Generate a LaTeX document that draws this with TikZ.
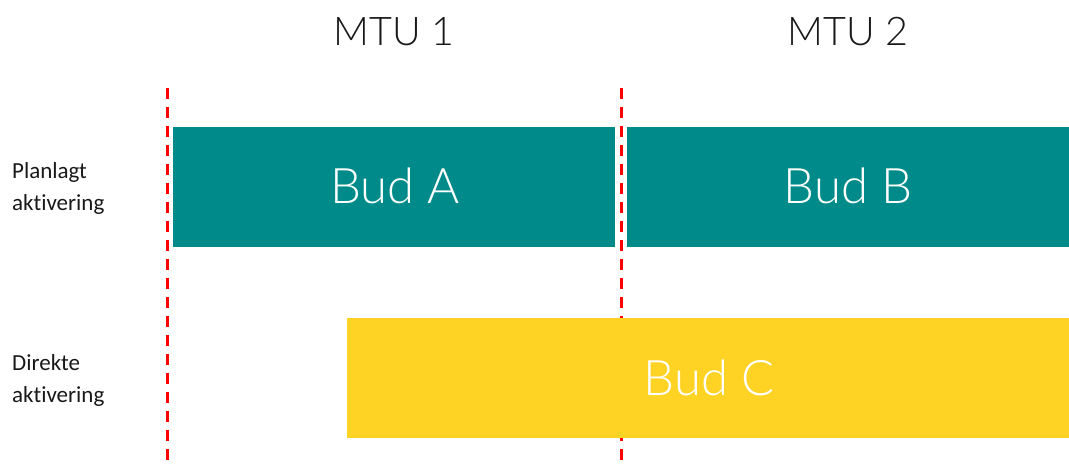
\documentclass[tikz,border=0pt]{standalone}
\usepackage{fontspec}
\setmainfont{Lato Light}[Ligatures=NoCommon]
\newfontfamily\regfont{Carlito}[Ligatures=NoCommon]
\definecolor{tealbox}{RGB}{0,139,138}
\definecolor{yellowbox}{RGB}{255,211,36}
\definecolor{dashred}{RGB}{255,0,0}
\tikzset{
  bidbox/.style={inner sep=0pt, outer sep=0pt, font=\fontsize{49}{60}\selectfont, text=white},
  mtulabel/.style={inner sep=0pt, font=\fontsize{39.5}{48}\selectfont, text=black!90},
  rowlabel/.style={inner sep=0pt, anchor=west, align=left, font=\regfont\fontsize{23}{32}\selectfont, text=black!90},
  mtuline/.style={draw=dashred, line width=3pt, dash pattern=on 11pt off 8pt}
}
\begin{document}
\begin{tikzpicture}[x=1pt, y=-1pt]
\useasboundingbox (0,0) rectangle (1069,464);
% dashed lines
\coordinate (l1t) at (167,88);
\coordinate (l1b) at (167,464);
\coordinate (l2t) at (621,88);
\coordinate (l2b) at (621,464);
\draw[mtuline] (l1t) -- (l1b);
\draw[mtuline] (l2t) -- (l2b);
% boxes
\fill[tealbox] (173,127) rectangle (615,247);
\node[bidbox] (a) at (395,186) {Bud A};
\fill[tealbox] (627,127) rectangle (1069,247);
\node[bidbox] (b) at (848,186) {Bud B};
\fill[yellowbox] (347,318) rectangle (1069,438);
\node[bidbox] (c) at (709,378) {Bud C};
% labels
\node[mtulabel] (m1) at (394,32) {MTU 1};
\node[mtulabel] (m2) at (848,32) {MTU 2};
\node[rowlabel] (p) at (12,188) {Planlagt\\aktivering};
\node[rowlabel] (d) at (12,380) {Direkte\\aktivering};
\end{tikzpicture}
\end{document}
